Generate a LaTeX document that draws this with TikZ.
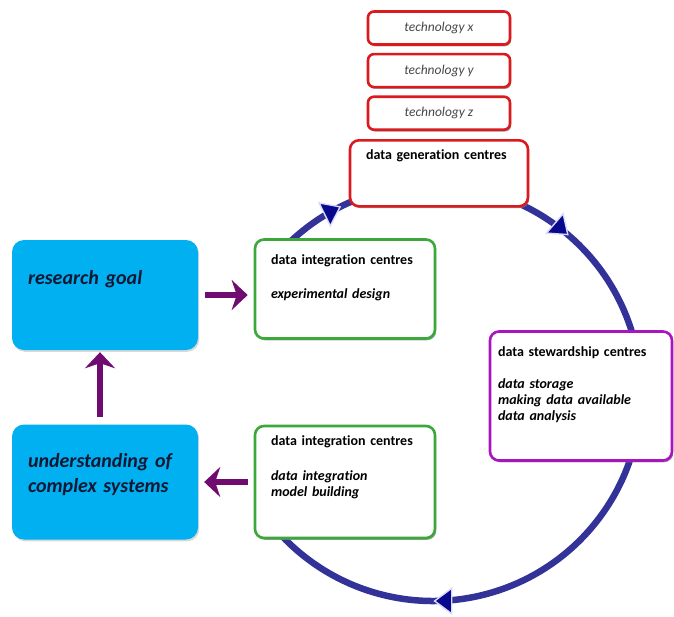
\documentclass[tikz,border=0pt]{standalone}
\usepackage{fontspec}
\setmainfont{Carlito}[Ligatures=NoCommon]
\usetikzlibrary{arrows.meta, positioning, shadows, decorations.markings}

\definecolor{genred}{RGB}{218,26,30}
\definecolor{integgreen}{RGB}{60,168,60}
\definecolor{stewpurple}{RGB}{170,20,190}
\definecolor{goalcyan}{RGB}{0,176,240}
\definecolor{cyclenavy}{RGB}{50,50,152}
\definecolor{tipnavy}{RGB}{8,8,140}
\definecolor{flowplum}{RGB}{112,12,112}
\definecolor{textnavy}{RGB}{18,24,52}

\newcommand{\boxtext}[2]{\parbox[c][#1][t]{\linewidth}{\raggedright #2}}

\tikzset{
  centre/.style={draw, fill=white, rounded corners=9pt, line width=2.6pt,
    inner xsep=16pt, inner ysep=15pt, align=left,
    font=\bfseries\fontsize{14}{16}\selectfont,
    drop shadow={shadow xshift=1.2pt, shadow yshift=-1.8pt, opacity=.75}},
  techbox/.style={centre, draw=genred, rounded corners=6pt, align=center,
    inner sep=2pt, minimum width=142pt, minimum height=33pt,
    font=\itshape\fontsize{13.5}{15}\selectfont, text=black!72},
  goalbox/.style={fill=goalcyan, rounded corners=12pt, inner xsep=16pt,
    inner ysep=30pt, align=left, text=textnavy,
    font=\bfseries\itshape\fontsize{20}{25}\selectfont,
    drop shadow={shadow xshift=1.2pt, shadow yshift=-1.8pt, opacity=.3}},
  cycleline/.style={draw=cyclenavy, line width=6.5pt,
    postaction={decorate}, decoration={markings,
      mark=at position 0.085 with {\arrow{tip}},
      mark=at position 0.324 with {\arrow{tip}},
      mark=at position 0.821 with {\arrow{tip}}}},
  tip/.tip={Triangle[length=19pt, width=28pt, line width=1.4pt, fill=tipnavy, color=blue!15]},
  flow/.style={draw=flowplum, line width=6.5pt,
    -{Stealth[length=16pt, width=30pt, inset=5pt]}}
}

\begin{document}
\begin{tikzpicture}[x=1pt, y=-1pt]
  \useasboundingbox (0,0) rectangle (674,616);

  % the cycle
  \coordinate (hub) at (433,393);
  \path[cycleline] (hub) ++(-140:208) arc[start angle=-140, end angle=140, radius=208];

  % technologies and generation
  \node[techbox] (techx) at (439,28) {technology x};
  \node[techbox, below=7pt of techx] (techy) {technology y};
  \node[techbox, below=7pt of techy] (techz) {technology z};
  \node[centre, draw=genred, text width=146pt, inner ysep=9pt, below=8pt of techz] (gen)
    {\boxtext{48pt}{data generation centres}};

  % centres round the cycle
  \node[centre, draw=integgreen, text width=148pt] (integ1) at (345,289)
    {\boxtext{69pt}{data integration centres\\[18pt]
      \itshape experimental design}};
  \node[centre, draw=stewpurple, text width=166pt, inner xsep=8pt] (stew) at (581,396)
    {\boxtext{99pt}{data stewardship centres\\[16pt]
      \itshape data storage\\ making data available\\ data analysis}};
  \node[centre, draw=integgreen, text width=148pt, inner ysep=10pt] (integ2) at (345,482)
    {\boxtext{92pt}{data integration centres\\[19pt]
      \itshape data integration\\ model building}};

  % goal and understanding
  \node[goalbox, text width=154pt] (goal) at (105,295)
    {\boxtext{50pt}{research goal}};
  \node[goalbox, text width=154pt, inner ysep=29pt] (underst) at (105,482)
    {\boxtext{57pt}{understanding of\\ complex systems}};

  \draw[flow, shorten <=7pt, shorten >=6pt] (goal) -- (goal -| integ1.west);
  \draw[flow, shorten <=6pt, shorten >=6pt] (integ2) -- (underst);
  \draw[flow, shorten <=7pt, shorten >=2pt]
    ([xshift=-5pt]underst.north) -- ([xshift=-5pt]goal.south);
\end{tikzpicture}
\end{document}
